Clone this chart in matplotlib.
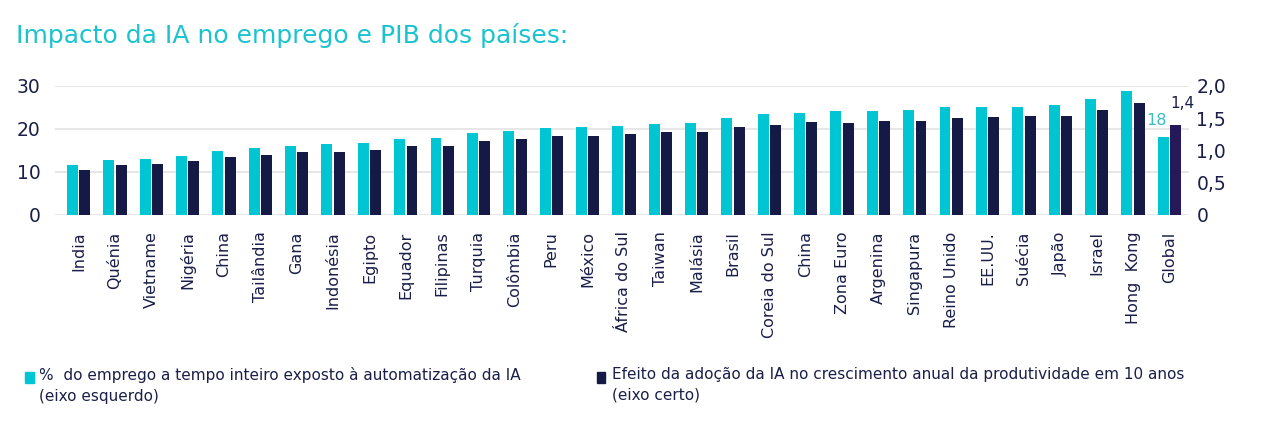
import numpy as np
import matplotlib.pyplot as plt
from matplotlib.patches import Rectangle

# Dados
paises = ["India", "Quénia", "Vietname", "Nigéria", "China", "Tailândia", "Gana",
          "Indonésia", "Egipto", "Equador", "Filipinas", "Turquia", "Colômbia", "Peru",
          "México", "África do Sul", "Taiwan", "Malásia", "Brasil", "Coreia do Sul",
          "China", "Zona Euro", "Argenina", "Singapura", "Reino Unido", "EE.UU.",
          "Suécia", "Japão", "Israel", "Hong  Kong", "Global"]
emprego = [11.6, 12.7, 12.9, 13.8, 14.8, 15.6, 16.1, 16.4, 16.8, 17.7, 17.8, 19.0,
           19.4, 20.2, 20.5, 20.7, 21.1, 21.3, 22.6, 23.4, 23.7, 24.1, 24.1, 24.3,
           25.0, 25.1, 25.1, 25.6, 27.0, 28.9, 18.0]
produtividade = [0.70, 0.77, 0.79, 0.84, 0.89, 0.93, 0.98, 0.98, 1.00, 1.07, 1.07,
                 1.14, 1.17, 1.22, 1.23, 1.25, 1.28, 1.29, 1.36, 1.40, 1.44, 1.43,
                 1.45, 1.45, 1.50, 1.52, 1.53, 1.54, 1.62, 1.73, 1.40]

ciano = "#00c5d3"
navy = "#141a45"
roxo = "#26195a"
texto = "#1a1f4a"

fig = plt.figure(figsize=(12.68, 4.34), dpi=100)
ax = fig.add_axes([0.043, 0.505, 0.895, 0.297])
ax2 = ax.twinx()

x = np.arange(len(paises))
w = 0.30
ax.bar(x - 0.17, emprego, width=w, color=ciano, zorder=3)
cores = [navy] * (len(paises) - 1) + [roxo]
ax2.bar(x + 0.17, produtividade, width=w, color=cores, zorder=3)

ax.set_ylim(0, 30)
ax2.set_ylim(0, 2.0)
ax.set_xlim(-0.66, len(paises) - 0.45)
ax.set_yticks([0, 10, 20, 30])
ax2.set_yticks([0, 0.5, 1.0, 1.5, 2.0])
ax2.set_yticklabels(["0", "0,5", "1,0", "1,5", "2,0"])
ax.grid(axis="y", color="#e3e3e3", linewidth=1.2, zorder=0)
ax.set_axisbelow(True)

for a in (ax, ax2):
    for s in a.spines.values():
        s.set_visible(False)
    a.tick_params(length=0, labelsize=13.5, labelcolor=texto)
ax.tick_params(axis="y", pad=10)
ax2.tick_params(axis="y", pad=5)

ax.set_xticks(x)
ax.set_xticklabels(paises, rotation=90, fontsize=11.5, color=texto)
ax.tick_params(axis="x", pad=12)

# rótulos do Global (no eixo da direita para ficarem por cima das barras)
ax2.annotate(f"{emprego[-1]:.0f}", (x[-1] - 0.17, emprego[-1]), xycoords=ax.transData,
             xytext=(-5, 7), textcoords="offset points", ha="center", va="bottom",
             color="#3bbac7", fontsize=11.5)
ax2.annotate(f"{produtividade[-1]:.1f}".replace(".", ","), (x[-1] + 0.17, produtividade[-1]),
             xytext=(5, 10), textcoords="offset points", ha="center", va="bottom",
             color=texto, fontsize=11)

fig.text(0.013, 0.902, "Impacto da IA no emprego e PIB dos países:", color="#1bc3cf",
         fontsize=18)

# legenda
fig.patches.append(Rectangle((0.020, 0.118), 0.0065, 0.024, transform=fig.transFigure,
                             color=ciano, figure=fig))
fig.text(0.031, 0.155, "%  do emprego a tempo inteiro exposto à automatização da IA\n(eixo esquerdo)",
         fontsize=11, color=texto, va="top", linespacing=1.5)
fig.patches.append(Rectangle((0.471, 0.118), 0.0065, 0.024, transform=fig.transFigure,
                             color=navy, figure=fig))
fig.text(0.483, 0.155, "Efeito da adoção da IA no crescimento anual da produtividade em 10 anos\n(eixo certo)",
         fontsize=11, color=texto, va="top", linespacing=1.5)

fig.savefig("out.png", dpi=100)
